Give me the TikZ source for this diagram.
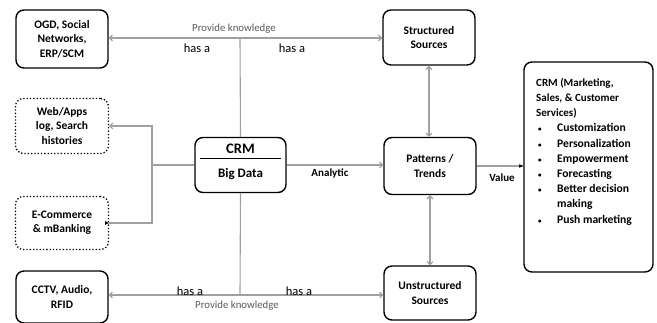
\documentclass[tikz,border=0pt]{standalone}
\usepackage{fontspec}
\setmainfont{Carlito}
\usetikzlibrary{arrows.meta}
\definecolor{lgray}{HTML}{A0A0A0}
\definecolor{tgray}{HTML}{595959}
\tikzset{
  box/.style={draw=black, line width=1.4pt, rounded corners=8pt, align=center, font=\bfseries\fontsize{11.5}{14.3}\selectfont, inner sep=2pt},
  dbox/.style={draw=black, line width=1.3pt, dotted, rounded corners=8pt, align=center, font=\bfseries\fontsize{11.5}{14.3}\selectfont, inner sep=2pt},
  gline/.style={draw=lgray, line width=1.1pt},
  garrow/.style={gline, -{Straight Barb[length=3pt,width=6pt]}},
  garrows/.style={gline, {Straight Barb[length=3pt,width=6pt]}-{Straight Barb[length=3pt,width=6pt]}},
  barrow/.style={draw=black, line width=0.8pt, -{Latex[length=4pt,width=4pt]}},
  glab/.style={text=tgray, font=\fontsize{10.8}{12}\selectfont},
  hlab/.style={text=black, font=\fontsize{12.5}{14}\selectfont},
  blab/.style={text=black, font=\bfseries\fontsize{11}{12}\selectfont}
}
\newcommand{\bitem}[1]{\makebox[21pt][l]{\hspace{2pt}\fontsize{7}{7}\selectfont•}{\fontsize{11.6}{15}\selectfont #1}}
\begin{document}
\begin{tikzpicture}[x=1pt,y=-1pt]
\useasboundingbox (0,0) rectangle (657,322);
% nodes
\node[box, minimum width=92pt, minimum height=58pt] (ogd) at (62,39) {OGD, Social\\Networks,\\ERP/SCM};
\node[dbox, minimum width=93pt, minimum height=55pt] (web) at (62,126) {Web/Apps\\log, Search\\histories};
\node[dbox, minimum width=93pt, minimum height=53pt] (ecom) at (62,223) {E-Commerce\\\& mBanking};
\node[box, minimum width=92pt, minimum height=52pt] (cctv) at (62,297) {CCTV, Audio,\\RFID};
\node[box, minimum width=91pt, minimum height=55pt] (crm) at (240.5,165) {};
\node[font=\bfseries\fontsize{14.5}{16}\selectfont] (crmt) at (240.5,149) {CRM};
\node[font=\bfseries\fontsize{13}{14}\selectfont] (bdt) at (240.5,174) {Big Data};
\draw[line width=0.6pt] (200,158) -- (281,158);
\node[box, minimum width=92pt, minimum height=55pt] (struct) at (429,37.5) {Structured\\Sources};
\node[box, minimum width=92pt, minimum height=57pt] (pat) at (430,166) {Patterns /\\Trends};
\node[box, minimum width=92pt, minimum height=54pt] (unstr) at (430,293) {Unstructured\\Sources};
\node[box, minimum width=129pt, minimum height=210pt] (big) at (588.5,167) {};
\node[anchor=north west, inner sep=0pt, align=left, font=\bfseries\fontsize{11}{15.2}\selectfont] (bigt) at (536,78)
{CRM (Marketing,\\Sales, \& Customer\\Services)\\
\bitem{Customization}\\
\bitem{Personalization}\\
\bitem{Empowerment}\\
\bitem{Forecasting}\\
\bitem{Better decision}\\
\makebox[21pt][l]{}{\fontsize{11.6}{15}\selectfont making}\\
\bitem{Push marketing}};
% junctions
\coordinate (tj) at (240,38);
\coordinate (bj) at (240,295);
\coordinate (lj) at (152,165);
% connectors
\draw[garrow] (tj) -- (tj -| ogd.east);
\draw[garrow] (tj) -- (tj -| struct.west);
\draw[gline] (tj) -- (crm.north);
\draw[gline] (crm.south) -- (bj);
\draw[garrow] (bj) -- (bj -| cctv.east);
\draw[garrow] (bj) -- (bj -| unstr.west);
\draw[gline] (crm.west) -- (lj);
\draw[garrow] (lj) |- (web.east);
\draw[gline] (lj) |- (ecom.east);
\draw[barrow] ([xshift=-4pt]ecom.east) -- (ecom.east);
\draw[garrow] (crm.east) -- (crm.east -| pat.west);
\draw[gline] (pat.east) -- (pat.east -| big.west);
\draw[barrow] ([xshift=-4pt]pat.east -| big.west) -- (pat.east -| big.west);
\draw[garrows] (struct.south) -- (struct.south |- pat.north);
\draw[garrows] (pat.south) -- (pat.south |- unstr.north);
% labels
\node[glab] (pk1) at (234,29) {Provide knowledge};
\node[hlab] (ha1) at (197,48) {has a};
\node[hlab] (ha2) at (292,48) {has a};
\node[hlab] (ha3) at (190,291) {has a};
\node[hlab] (ha4) at (299,291) {has a};
\node[glab] (pk2) at (237,306) {Provide knowledge};
\node[blab] (an) at (330,173) {Analytic};
\node[blab] (val) at (502,178) {Value};
\end{tikzpicture}
\end{document}
